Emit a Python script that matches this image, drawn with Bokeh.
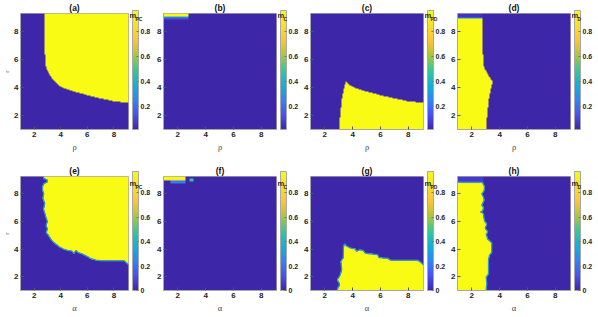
import numpy as np
from bokeh.plotting import figure
from bokeh.layouts import column, row
from bokeh.models import (LinearColorMapper, ColorBar, FixedTicker,
                          CustomJSTickFormatter, Label, Range1d, Title)
from bokeh.embed import file_html
from bokeh.resources import INLINE

# ---------------- data ----------------
X_RANGE = (0.97, 9.1)        # rho / alpha axis extent
Y_RANGE = (1.0, 9.25)        # r axis extent
AXIS_TICKS = [2, 4, 6, 8]

panel_tags = ["(a)", "(b)", "(c)", "(d)", "(e)", "(f)", "(g)", "(h)"]
cbar_main = ["m"] * 8
cbar_sub = ["PC", "C", "PD", "D", "PC", "C", "PD", "D"]
x_labels = ["\u03c1"] * 4 + ["\u03b1"] * 4
y_label = "r"

row1_cbar_range = (0.013, 0.973)
row2_cbar_range = (0.0, 0.975)
row1_cbar_ticks = [0.2, 0.4, 0.6, 0.8]
row2_cbar_ticks = [0, 0.2, 0.4, 0.6, 0.8]

# yellow-region outlines (rho, r); points beyond the axes extent close the region
a_rho = [2.78, 9.6, 9.6, 9.1, 8.0, 7.0, 6.0, 5.0, 4.5, 4.0, 3.75, 3.5, 3.3, 3.1, 2.95, 2.85, 2.8]
a_r   = [9.7, 9.7, 2.88, 2.9, 3.02, 3.2, 3.45, 3.7, 3.85, 4.03, 4.2, 4.45, 4.7, 5.0, 5.3, 5.6, 6.5]

b_strip_rho = [0.5, 2.75, 2.75, 0.5]
b_strip_r   = [9.03, 9.03, 9.7, 9.7]
b_band1_r   = [8.95, 8.95, 9.03, 9.03]
b_band2_r   = [8.86, 8.86, 8.95, 8.95]
b_band_vals = [0.35, 0.12]

c_rho = [3.02, 3.04, 3.08, 3.15, 3.25, 3.4, 3.52, 3.75, 4.0, 4.5, 5.0, 6.0, 7.0, 8.0, 9.1, 9.6, 9.6]
c_r   = [0.5, 1.0, 1.8, 2.5, 3.3, 4.0, 4.4, 4.2, 4.03, 3.85, 3.7, 3.45, 3.2, 3.02, 2.9, 2.88, 0.5]

d_rho = [0.5, 2.8, 2.8, 2.85, 2.95, 3.1, 3.3, 3.52, 3.4, 3.25, 3.15, 3.08, 3.04, 3.03, 0.5]
d_r   = [8.93, 8.93, 6.5, 5.6, 5.3, 5.0, 4.7, 4.4, 4.0, 3.3, 2.5, 1.8, 1.0, 0.5, 0.5]
d_top_rho = [0.5, 2.8, 2.8, 0.5]
d_top1_r  = [8.93, 8.93, 9.0, 9.0]
d_top2_r  = [9.0, 9.0, 9.7, 9.7]
d_top_vals = [0.25, 0.05]

e_rho = [2.72, 2.72, 2.96, 2.96, 2.75, 2.62, 2.65, 2.72, 2.65, 2.8, 2.7, 2.85, 3.0, 2.88, 3.0,
         2.9, 3.1, 3.3, 3.5, 3.85, 4.2, 4.5, 4.85, 5.0, 5.15, 5.3, 5.6, 6.0, 6.3, 6.65, 7.1,
         8.8, 9.07, 9.6, 9.6]
e_r   = [9.7, 9.1, 9.0, 8.85, 8.75, 8.5, 8.2, 8.0, 7.7, 7.3, 6.9, 6.4, 6.0, 5.7, 5.45,
         5.2, 4.95, 4.65, 4.45, 4.18, 4.0, 3.9, 3.85, 3.68, 3.9, 3.75, 3.65, 3.45, 3.3, 3.2, 3.15,
         3.14, 2.9, 2.85, 9.7]

f_strip_rho = [0.5, 2.55, 2.55, 0.5]
f_strip_r   = [9.0, 9.0, 9.7, 9.7]
f_edge_r    = [8.93, 8.93, 9.0, 9.0]
f_band_rho  = [1.5, 2.55, 2.55, 1.5]
f_band_r    = [8.72, 8.72, 8.93, 8.93]
f_dot_rho   = [2.88, 3.1, 3.1, 2.88]
f_dot_r     = [8.88, 8.88, 9.08, 9.08]
f_vals      = [0.85, 0.22, 0.45]

g_rho = [2.91, 2.91, 3.06, 2.91, 3.1, 3.22, 3.15, 3.32, 3.34, 3.41, 3.58, 3.87, 4.16, 4.3,
         4.5, 4.75, 4.9, 5.2, 5.8, 5.9, 6.55, 6.7, 8.7, 9.1, 9.6, 9.6]
g_r   = [0.5, 1.1, 1.44, 1.8, 2.12, 2.52, 3.09, 3.38, 4.11, 4.38, 4.2, 4.06, 4.02, 3.84,
         3.95, 3.9, 3.7, 3.66, 3.59, 3.38, 3.34, 3.2, 3.2, 2.86, 2.8, 0.5]

h_rho = [0.5, 2.75, 2.91, 2.89, 2.72, 2.84, 2.89, 2.72, 2.84, 2.79, 2.65, 2.84, 2.91, 3.08,
         2.96, 3.15, 3.03, 3.13, 3.44, 3.44, 3.27, 3.2, 3.2, 3.03, 3.08, 3.03, 3.03, 0.5]
h_r   = [8.85, 8.85, 8.52, 8.23, 8.0, 7.77, 7.55, 7.16, 7.0, 6.78, 6.69, 6.55, 6.03, 5.81,
         5.51, 5.24, 5.08, 4.74, 4.45, 3.77, 3.54, 3.2, 2.19, 1.96, 1.51, 1.1, 0.5, 0.5]
h_top_rho  = [0.5, 2.85, 2.85, 0.5]
h_top_r    = [8.85, 8.85, 9.7, 9.7]
h_edge_rho = [1.25, 2.65, 2.65, 1.25]
h_edge_r   = [8.72, 8.72, 8.85, 8.85]
h_vals     = [0.06, 0.85]

# MATLAB parula colormap anchors
parula_anchors = [(0.2422, 0.1504, 0.6603), (0.2810, 0.3228, 0.9579),
                  (0.1786, 0.5289, 0.9682), (0.0689, 0.6948, 0.8394),
                  (0.2161, 0.7843, 0.5923), (0.6720, 0.7793, 0.2227),
                  (0.9970, 0.7659, 0.2199), (0.9700, 0.8750, 0.1500),
                  (0.9769, 0.9839, 0.0805)]

# ---------------- helpers ----------------
anc = np.array(parula_anchors)
pos = np.linspace(0, 1, len(anc))
tt = np.linspace(0, 1, 256)
PARULA = ["#%02x%02x%02x" % tuple(int(round(255 * np.interp(t, pos, anc[:, k]))) for k in range(3))
          for t in tt]

STEP = 0.025
nx = int(round((X_RANGE[1] - X_RANGE[0]) / STEP))
ny = int(round((Y_RANGE[1] - Y_RANGE[0]) / STEP))
gx = X_RANGE[0] + (np.arange(nx) + 0.5) * (X_RANGE[1] - X_RANGE[0]) / nx
gy = Y_RANGE[0] + (np.arange(ny) + 0.5) * (Y_RANGE[1] - Y_RANGE[0]) / ny
PX, PY = np.meshgrid(gx, gy)


def inside(vx, vy):
    vx = np.asarray(vx, float)
    vy = np.asarray(vy, float)
    res = np.zeros(PX.shape, bool)
    n = len(vx)
    j = n - 1
    for i in range(n):
        xi, yi, xj, yj = vx[i], vy[i], vx[j], vy[j]
        cond = (yi > PY) != (yj > PY)
        if yj != yi:
            xint = (xj - xi) * (PY - yi) / (yj - yi) + xi
            res ^= cond & (PX < xint)
        j = i
    return res


def field(layers, lo):
    z = np.full(PX.shape, lo, float)
    for vx, vy, val in layers:
        z[inside(vx, vy)] = val
    return z


hi1, hi2 = row1_cbar_range[1], row2_cbar_range[1]
fields = [
    field([(a_rho, a_r, hi1)], row1_cbar_range[0]),
    field([(b_strip_rho, b_strip_r, hi1), (b_strip_rho, b_band1_r, b_band_vals[0]),
           (b_strip_rho, b_band2_r, b_band_vals[1])], row1_cbar_range[0]),
    field([(c_rho, c_r, hi1)], row1_cbar_range[0]),
    field([(d_rho, d_r, hi1), (d_top_rho, d_top1_r, d_top_vals[0]),
           (d_top_rho, d_top2_r, d_top_vals[1])], row1_cbar_range[0]),
    field([(e_rho, e_r, hi2)], row2_cbar_range[0]),
    field([(f_strip_rho, f_strip_r, hi2), (f_strip_rho, f_edge_r, f_vals[0]),
           (f_band_rho, f_band_r, f_vals[1]), (f_dot_rho, f_dot_r, f_vals[2])], row2_cbar_range[0]),
    field([(g_rho, g_r, hi2)], row2_cbar_range[0]),
    field([(h_rho, h_r, hi2), (h_top_rho, h_top_r, h_vals[0]),
           (h_edge_rho, h_edge_r, h_vals[1])], row2_cbar_range[0]),
]
halos = [None, None, None, None, (e_rho, e_r), None, (g_rho, g_r), (h_rho, h_r)]

FONT = "Liberation Sans"
TXT = "#262626"
GREY = "#a8a8a8"
FRAME_W, FRAME_H = 113, 119
CB_W = 22
LEFTS = [15, 12, 11, 11]


def make_panel(i):
    col, rw = i % 4, i // 4
    left = LEFTS[col]
    top = 10 if rw == 0 else 17
    bottom = 30 if rw == 0 else 20
    lo, hi = (row1_cbar_range if rw == 0 else row2_cbar_range)
    ticks = row1_cbar_ticks if rw == 0 else row2_cbar_ticks
    mapper = LinearColorMapper(palette=PARULA, low=lo, high=hi)

    # ---- heat map ----
    p = figure(width=left + FRAME_W + 1, height=top + FRAME_H + bottom,
               x_range=Range1d(*X_RANGE), y_range=Range1d(*Y_RANGE),
               output_backend="svg", toolbar_location=None,
               min_border_left=left, min_border_right=1,
               min_border_top=top, min_border_bottom=bottom)
    p.title = Title(text=panel_tags[i], align="center", text_font=FONT,
                    text_font_size="8.5px", text_font_style="bold", text_color="#111111",
                    standoff=1)
    p.image(image=[fields[i]], x=X_RANGE[0], y=Y_RANGE[0],
            dw=X_RANGE[1] - X_RANGE[0], dh=Y_RANGE[1] - Y_RANGE[0], color_mapper=mapper)
    if halos[i] is not None:
        p.patch(halos[i][0], halos[i][1], fill_color=None, line_color="#2196e0",
                line_width=1.3, line_alpha=0.85)
    p.grid.visible = False
    p.outline_line_color = GREY
    for ax in (p.xaxis, p.yaxis):
        ax.ticker = FixedTicker(ticks=AXIS_TICKS)
        ax.major_tick_in = 3
        ax.major_tick_out = 0
        ax.minor_tick_line_color = None
        ax.axis_line_color = GREY
        ax.major_tick_line_color = "#555555"
        ax.major_label_text_font = FONT
        ax.major_label_text_font_size = "8px"
        ax.major_label_text_font_style = "bold"
        ax.major_label_text_color = TXT
        ax.major_label_standoff = 2
    p.xaxis.axis_label = x_labels[i]
    p.xaxis.axis_label_text_font = "Liberation Serif"
    p.xaxis.axis_label_text_font_size = "8.5px"
    p.xaxis.axis_label_text_font_style = "normal"
    p.xaxis.axis_label_text_color = "#444444"
    p.xaxis.axis_label_standoff = 2
    if col == 0:
        p.yaxis.axis_label = y_label
        p.yaxis.axis_label_text_font = "Liberation Serif"
        p.yaxis.axis_label_text_font_size = "7px"
        p.yaxis.axis_label_text_font_style = "normal"
        p.yaxis.axis_label_text_color = "#444444"
        p.yaxis.axis_label_standoff = 0

    # ---- colour bar column (its frame, in pixel units, also holds the title) ----
    q_h = top + FRAME_H
    q = figure(width=CB_W, height=top + FRAME_H + bottom,
               x_range=Range1d(0, CB_W), y_range=Range1d(0, q_h),
               x_axis_type=None, y_axis_type=None, title=None,
               output_backend="svg", toolbar_location=None,
               min_border_left=0, min_border_right=0, min_border_top=0,
               min_border_bottom=bottom)
    q.outline_line_color = None
    cb = ColorBar(color_mapper=mapper, width=6, height=FRAME_H, padding=0, margin=0,
                  location=(3, 0), label_standoff=2,
                  ticker=FixedTicker(ticks=ticks),
                  formatter=CustomJSTickFormatter(code="return tick === 0 ? '0' : tick.toFixed(1);"),
                  major_label_text_font=FONT, major_label_text_font_size="7px",
                  major_label_text_font_style="bold", major_label_text_color=TXT,
                  bar_line_color=GREY, major_tick_line_color="#777777",
                  major_tick_in=2, major_tick_out=0, minor_tick_line_color=None,
                  border_line_color=None, background_fill_color=None)
    q.add_layout(cb)
    q.add_layout(Label(x=0, y=FRAME_H + 3, text=cbar_main[i], text_align="left",
                       text_baseline="bottom", text_font=FONT, text_font_size="7.5px",
                       text_font_style="bold", text_color=TXT))
    q.add_layout(Label(x=6, y=FRAME_H + 1, text=cbar_sub[i], text_align="left",
                       text_baseline="bottom", text_font=FONT, text_font_size="5px",
                       text_font_style="bold", text_color=TXT))
    return [p, q]


figs = [make_panel(i) for i in range(8)]
row1 = row(*[f for pair in figs[:4] for f in pair])
row2 = row(*[f for pair in figs[4:] for f in pair])
layout = column(row1, row2)

open("out.html", "w").write(file_html(layout, INLINE))
